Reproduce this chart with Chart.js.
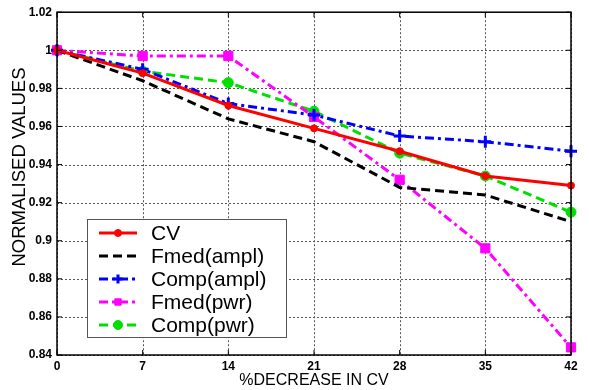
<!DOCTYPE html>
<html><head><meta charset="utf-8">
<script src="https://cdn.jsdelivr.net/npm/chart.js@4/dist/chart.umd.min.js"></script>
<style>html,body{margin:0;padding:0;background:#fff}#wrap{width:589px;height:390px}</style>
</head><body><div id="wrap"><canvas id="c" width="589" height="390"></canvas></div>
<script>
const xValues = [0, 7, 14, 21, 28, 35, 42];
const yTicks = [0.84, 0.86, 0.88, 0.9, 0.92, 0.94, 0.96, 0.98, 1.0, 1.02];
const seriesNames = ['CV', 'Fmed(ampl)', 'Comp(ampl)', 'Fmed(pwr)', 'Comp(pwr)'];
const cv        = [1.0, 0.988, 0.971, 0.959, 0.947, 0.934, 0.929];
const fmedAmpl  = [1.0, 0.984, 0.964, 0.952, 0.928, 0.924, 0.910];
const compAmpl  = [1.0, 0.990, 0.972, 0.966, 0.955, 0.952, 0.947];
const fmedPwr   = [1.0, 0.997, 0.997, 0.965, 0.932, 0.896, 0.844];
const compPwr   = [1.0, 0.989, 0.983, 0.968, 0.946, 0.934, 0.915];
const xTitle = '%DECREASE IN CV';
const yTitle = 'NORMALISED VALUES';

const FONT = '"Liberation Sans", Arial, sans-serif';
const toPts = arr => arr.map((v, i) => ({x: xValues[i], y: v}));
const styles = [
  {c:'#ff0000', dash:[], ps:'circle', r:3.5},
  {c:'#000000', dash:[9,5], ps:'circle', r:0},
  {c:'#0000ff', dash:[9,4,3,4], ps:'cross', r:6},
  {c:'#ff00ff', dash:[9,4,3,4], ps:'rect', r:6.5},
  {c:'#00e000', dash:[9,5], ps:'circle', r:5}
];
const allData = [cv, fmedAmpl, compAmpl, fmedPwr, compPwr];
const datasets = allData.map((d, i) => ({
  label: seriesNames[i],
  data: toPts(d),
  borderColor: styles[i].c,
  backgroundColor: styles[i].c,
  borderWidth: 3,
  borderDash: styles[i].dash,
  pointStyle: styles[i].ps,
  pointRadius: styles[i].r,
  pointBorderWidth: i === 2 ? 3 : 1,
  pointBorderColor: styles[i].c,
  pointBackgroundColor: styles[i].c,
  tension: 0,
  clip: false
}));

const framePlugin = {
  id: 'frame',
  beforeDatasetsDraw(chart) {
    const {ctx, chartArea: a, scales} = chart;
    ctx.save();
    ctx.strokeStyle = '#555';
    ctx.lineWidth = 1;
    ctx.setLineDash([2, 2]);
    xValues.forEach(v => {
      const x = Math.round(scales.x.getPixelForValue(v)) + 0.5;
      ctx.beginPath(); ctx.moveTo(x, a.top); ctx.lineTo(x, a.bottom); ctx.stroke();
    });
    yTicks.forEach(v => {
      const y = Math.round(scales.y.getPixelForValue(v)) + 0.5;
      ctx.beginPath(); ctx.moveTo(a.left, y); ctx.lineTo(a.right, y); ctx.stroke();
    });
    ctx.restore();
  },
  afterDatasetsDraw(chart) {
    const {ctx, chartArea: a, scales} = chart;
    ctx.save();
    ctx.setLineDash([]);
    ctx.strokeStyle = '#000';
    ctx.lineWidth = 1.5;
    ctx.strokeRect(a.left, a.top, a.right - a.left, a.bottom - a.top);
    ctx.lineWidth = 1;
    xValues.forEach(v => {
      const x = scales.x.getPixelForValue(v);
      ctx.beginPath(); ctx.moveTo(x, a.top); ctx.lineTo(x, a.top + 5); ctx.stroke();
      ctx.beginPath(); ctx.moveTo(x, a.bottom); ctx.lineTo(x, a.bottom - 5); ctx.stroke();
    });
    yTicks.forEach(v => {
      const y = scales.y.getPixelForValue(v);
      ctx.beginPath(); ctx.moveTo(a.right, y); ctx.lineTo(a.right - 5, y); ctx.stroke();
      ctx.beginPath(); ctx.moveTo(a.left, y); ctx.lineTo(a.left + 5, y); ctx.stroke();
    });
    // y title
    ctx.save();
    ctx.translate(20, 167);
    ctx.rotate(-Math.PI / 2);
    ctx.fillStyle = '#000';
    ctx.font = '18.5px ' + FONT;
    ctx.textAlign = 'center';
    ctx.textBaseline = 'middle';
    ctx.fillText(yTitle, 0, 0);
    ctx.restore();
    // legend
    const lx = 87, ly = 219, lw = 199, lh = 118;
    ctx.fillStyle = '#fff';
    ctx.fillRect(lx, ly, lw, lh);
    ctx.strokeStyle = '#555';
    ctx.lineWidth = 1;
    ctx.strokeRect(lx + 0.5, ly + 0.5, lw, lh);
    ctx.font = '21px ' + FONT;
    ctx.textBaseline = 'middle';
    ctx.textAlign = 'left';
    datasets.forEach((ds, i) => {
      const y = ly + 14 + i * 23;
      ctx.save();
      ctx.strokeStyle = ds.borderColor;
      ctx.fillStyle = ds.borderColor;
      ctx.lineWidth = 3;
      ctx.setLineDash(ds.borderDash);
      ctx.beginPath(); ctx.moveTo(99, y); ctx.lineTo(137, y); ctx.stroke();
      ctx.setLineDash([]);
      if (ds.pointRadius > 0) {
        ctx.lineWidth = ds.pointBorderWidth;
        Chart.helpers.drawPoint(ctx, {pointStyle: ds.pointStyle, radius: Math.min(ds.pointRadius, 4.5), borderWidth: ds.pointBorderWidth}, 118, y);
      }
      ctx.restore();
      ctx.fillStyle = '#000';
      ctx.fillText(ds.label, 151, y + 1);
    });
    ctx.restore();
  }
};

new Chart(document.getElementById('c'), {
  type: 'line',
  data: {datasets},
  options: {
    responsive: false,
    animation: false,
    devicePixelRatio: 1,
    layout: {padding: {top: 10, right: 18, left: 0, bottom: 0}},
    plugins: {legend: {display: false}, tooltip: {enabled: false}},
    scales: {
      x: {
        type: 'linear', min: 0, max: 42,
        afterBuildTicks: s => { s.ticks = xValues.map(v => ({value: v})); },
        afterFit: s => { s.height = 35; },
        grid: {display: false, drawTicks: false},
        border: {display: false},
        ticks: {color: '#000', font: {family: FONT, size: 12, weight: 'bold'}, padding: 4, maxRotation: 0},
        title: {display: true, text: xTitle, color: '#000', font: {family: FONT, size: 16}, padding: {top: 0, bottom: 0}}
      },
      y: {
        type: 'linear', min: 0.84, max: 1.02,
        afterBuildTicks: s => { s.ticks = yTicks.map(v => ({value: v})); },
        afterFit: s => { s.width = 57; },
        grid: {display: false, drawTicks: false},
        border: {display: false},
        ticks: {color: '#000', font: {family: FONT, size: 12, weight: 'bold'}, padding: 5,
          callback: v => String(Math.round(v * 100) / 100)},
        title: {display: false}
      }
    }
  },
  plugins: [framePlugin]
});
</script>
</body></html>
